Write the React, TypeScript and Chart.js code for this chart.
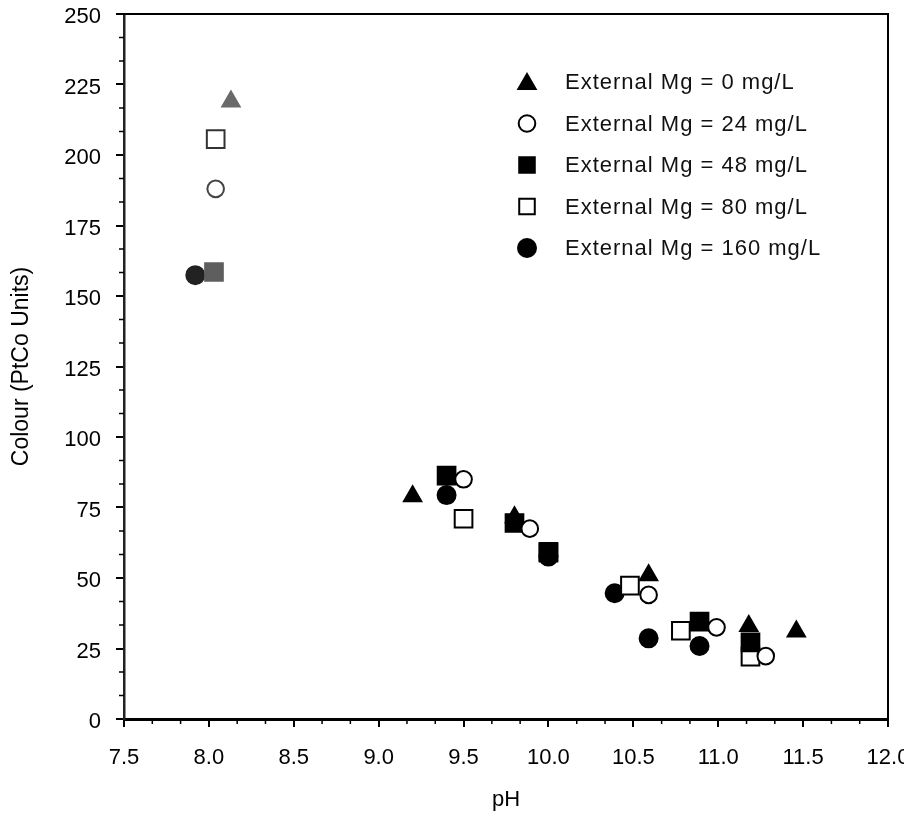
import React, { useEffect, useRef } from 'react';
import { Chart, registerables } from 'chart.js';

Chart.register(...registerables);

// ---- Data ----
const seriesLabels = [
  'External Mg = 0 mg/L',
  'External Mg = 24 mg/L',
  'External Mg = 48 mg/L',
  'External Mg = 80 mg/L',
  'External Mg = 160 mg/L',
];

const mg0pH = [8.13, 9.2, 9.8, 10.59, 11.18, 11.46];
const mg0Colour = [219, 79, 71.5, 51, 33, 31];

const mg24pH = [8.04, 9.5, 9.89, 10.59, 10.99, 11.28];
const mg24Colour = [188, 85, 67.5, 44, 32.5, 22.3];

const mg48pH = [8.03, 9.4, 9.8, 10.0, 10.89, 11.19];
const mg48Colour = [158.5, 86.3, 69.5, 59.3, 34.5, 27.2];

const mg80pH = [8.04, 9.5, 10.0, 10.48, 10.78, 11.19];
const mg80Colour = [205.6, 71, 59, 47.3, 31.3, 22.1];

const mg160pH = [7.92, 9.4, 10.0, 10.39, 10.59, 10.89];
const mg160Colour = [157.4, 79.4, 57.6, 44.6, 28.6, 25.9];

const xTickValues = [7.5, 8.0, 8.5, 9.0, 9.5, 10.0, 10.5, 11.0, 11.5, 12.0];
const yTickValues = [0, 25, 50, 75, 100, 125, 150, 175, 200, 225, 250];

const xTitle = 'pH';
const yTitle = 'Colour (PtCo Units)';

const FONT = "'Liberation Sans', Arial, Helvetica, sans-serif";

type Marker = { style: 'triangle' | 'circle' | 'rect'; filled: boolean; radius: number; firstColor: string };
const markers: Marker[] = [
  { style: 'triangle', filled: true, radius: 10, firstColor: '#6a6a6a' },
  { style: 'circle', filled: false, radius: 8.3, firstColor: '#444444' },
  { style: 'rect', filled: true, radius: 12.5, firstColor: '#5e5e5e' },
  { style: 'rect', filled: false, radius: 12.5, firstColor: '#333333' },
  { style: 'circle', filled: true, radius: 9, firstColor: '#222222' },
];

const toPoints = (xs: number[], ys: number[]) => xs.map((x, i) => ({ x, y: ys[i] }));

const seriesData = [
  toPoints(mg0pH, mg0Colour),
  toPoints(mg24pH, mg24Colour),
  toPoints(mg48pH, mg48Colour),
  toPoints(mg80pH, mg80Colour),
  toPoints(mg160pH, mg160Colour),
];

function drawShape(ctx: CanvasRenderingContext2D, m: Marker, x: number, y: number, color: string) {
  ctx.save();
  ctx.beginPath();
  const r = m.radius;
  if (m.style === 'triangle') {
    let a = 0;
    ctx.moveTo(x + Math.sin(a) * r, y - Math.cos(a) * r);
    a += (2 * Math.PI) / 3;
    ctx.lineTo(x + Math.sin(a) * r, y - Math.cos(a) * r);
    a += (2 * Math.PI) / 3;
    ctx.lineTo(x + Math.sin(a) * r, y - Math.cos(a) * r);
    ctx.closePath();
  } else if (m.style === 'circle') {
    ctx.arc(x, y, r, 0, Math.PI * 2);
  } else {
    const s = Math.SQRT1_2 * r;
    ctx.rect(x - s, y - s, 2 * s, 2 * s);
  }
  ctx.fillStyle = m.filled ? color : '#ffffff';
  ctx.fill();
  ctx.lineWidth = 2;
  ctx.strokeStyle = color;
  ctx.stroke();
  ctx.restore();
}

const framePlugin = {
  id: 'frameAndTicks',
  afterDraw(chart: any) {
    const { ctx, chartArea, scales } = chart;
    const { left, right, top, bottom } = chartArea;
    ctx.save();
    ctx.strokeStyle = '#000';
    // top and right border
    ctx.lineWidth = 2;
    ctx.beginPath();
    ctx.moveTo(left - 8, top);
    ctx.lineTo(right, top);
    ctx.lineTo(right, bottom);
    ctx.stroke();
    // minor ticks
    ctx.lineWidth = 1.5;
    const xs = scales.x;
    for (let i = 0; i <= 27; i++) {
      if (i % 3 === 0) continue;
      const v = 7.5 + i / 6;
      const px = xs.getPixelForValue(v);
      ctx.beginPath();
      ctx.moveTo(px, bottom);
      ctx.lineTo(px, bottom + 5);
      ctx.stroke();
    }
    const ys = scales.y;
    for (let i = 0; i <= 30; i++) {
      if (i % 3 === 0) continue;
      const v = (i * 25) / 3;
      const py = ys.getPixelForValue(v);
      ctx.beginPath();
      ctx.moveTo(left, py);
      ctx.lineTo(left - 5, py);
      ctx.stroke();
    }
    ctx.restore();
  },
};

const legendPlugin = {
  id: 'insideLegend',
  afterDraw(chart: any) {
    const { ctx } = chart;
    ctx.save();
    const markerX = 527;
    const textX = 565;
    const startY = 82;
    const step = 41.5;
    ctx.font = `22px ${FONT}`;
    (ctx as any).letterSpacing = '1px';
    ctx.fillStyle = '#111';
    ctx.textBaseline = 'middle';
    ctx.textAlign = 'left';
    chart.data.datasets.forEach((ds: any, i: number) => {
      const y = startY + i * step;
      const m = markers[i];
      const my = m.style === 'triangle' ? y + 2 : y;
      drawShape(ctx, { ...m, radius: m.style === 'rect' ? 11 : m.radius }, markerX, my, '#000');
      ctx.fillText(ds.label, textX, y + 1);
    });
    ctx.restore();
  },
};

export default function App() {
  const canvasRef = useRef<HTMLCanvasElement | null>(null);

  useEffect(() => {
    if (!canvasRef.current) return;
    Chart.defaults.font.family = FONT;
    Chart.defaults.color = '#000';

    const datasets = seriesLabels.map((label, i) => {
      const m = markers[i];
      const colorFn = (c: any) => (c.dataIndex === 0 ? m.firstColor : '#000');
      return {
        label,
        data: seriesData[i],
        showLine: false,
        pointStyle: m.style,
        pointRadius: m.radius,
        pointHoverRadius: m.radius,
        pointBorderWidth: 2,
        pointBorderColor: colorFn,
        pointBackgroundColor: m.filled ? colorFn : '#ffffff',
        clip: false,
      };
    });

    const chart = new Chart(canvasRef.current, {
      type: 'scatter',
      data: { datasets },
      options: {
        responsive: false,
        animation: false,
        layout: { autoPadding: false, padding: { top: 14, right: 24, left: 0, bottom: 0 } },
        plugins: {
          legend: { display: false },
          tooltip: { enabled: false },
          title: { display: false },
        },
        scales: {
          x: {
            type: 'linear',
            min: 7.5,
            max: 12,
            afterBuildTicks: (s: any) => {
              s.ticks = xTickValues.map((v) => ({ value: v }));
            },
            afterFit: (s: any) => {
              s.height = 103;
              s.paddingLeft = 0;
              s.paddingRight = 0;
            },
            ticks: {
              font: { size: 22 },
              color: '#000',
              padding: 18,
              maxRotation: 0,
              autoSkip: false,
              callback: (v: any) => Number(v).toFixed(1),
            },
            grid: {
              display: true,
              drawOnChartArea: false,
              drawTicks: true,
              tickLength: 8,
              lineWidth: 2,
              color: '#000',
            },
            border: { display: true, color: '#000', width: 3 },
            title: {
              display: true,
              text: xTitle,
              font: { size: 22 },
              color: '#000',
              padding: { top: 0, bottom: 9 },
            },
          },
          y: {
            type: 'linear',
            min: 0,
            max: 250,
            afterBuildTicks: (s: any) => {
              s.ticks = yTickValues.map((v) => ({ value: v }));
            },
            afterFit: (s: any) => {
              s.width = 124;
              s.paddingTop = 0;
              s.paddingBottom = 0;
            },
            ticks: {
              font: { size: 22 },
              color: '#000',
              padding: 15,
              labelOffset: 3,
              autoSkip: false,
            },
            grid: {
              display: true,
              drawOnChartArea: false,
              drawTicks: true,
              tickLength: 8,
              lineWidth: 2,
              color: '#000',
            },
            border: { display: true, color: '#222', width: 2.5 },
            title: {
              display: true,
              text: yTitle,
              font: { size: 23 },
              color: '#000',
              padding: { top: 8, bottom: 0 },
            },
          },
        },
      },
      plugins: [framePlugin, legendPlugin],
    } as any);

    return () => chart.destroy();
  }, []);

  return (
    <div style={{ margin: '-8px 0 0 -8px', width: 912, height: 822, background: '#fff', overflow: 'hidden' }}>
      <canvas ref={canvasRef} width={912} height={822} style={{ display: 'block' }} />
    </div>
  );
}
